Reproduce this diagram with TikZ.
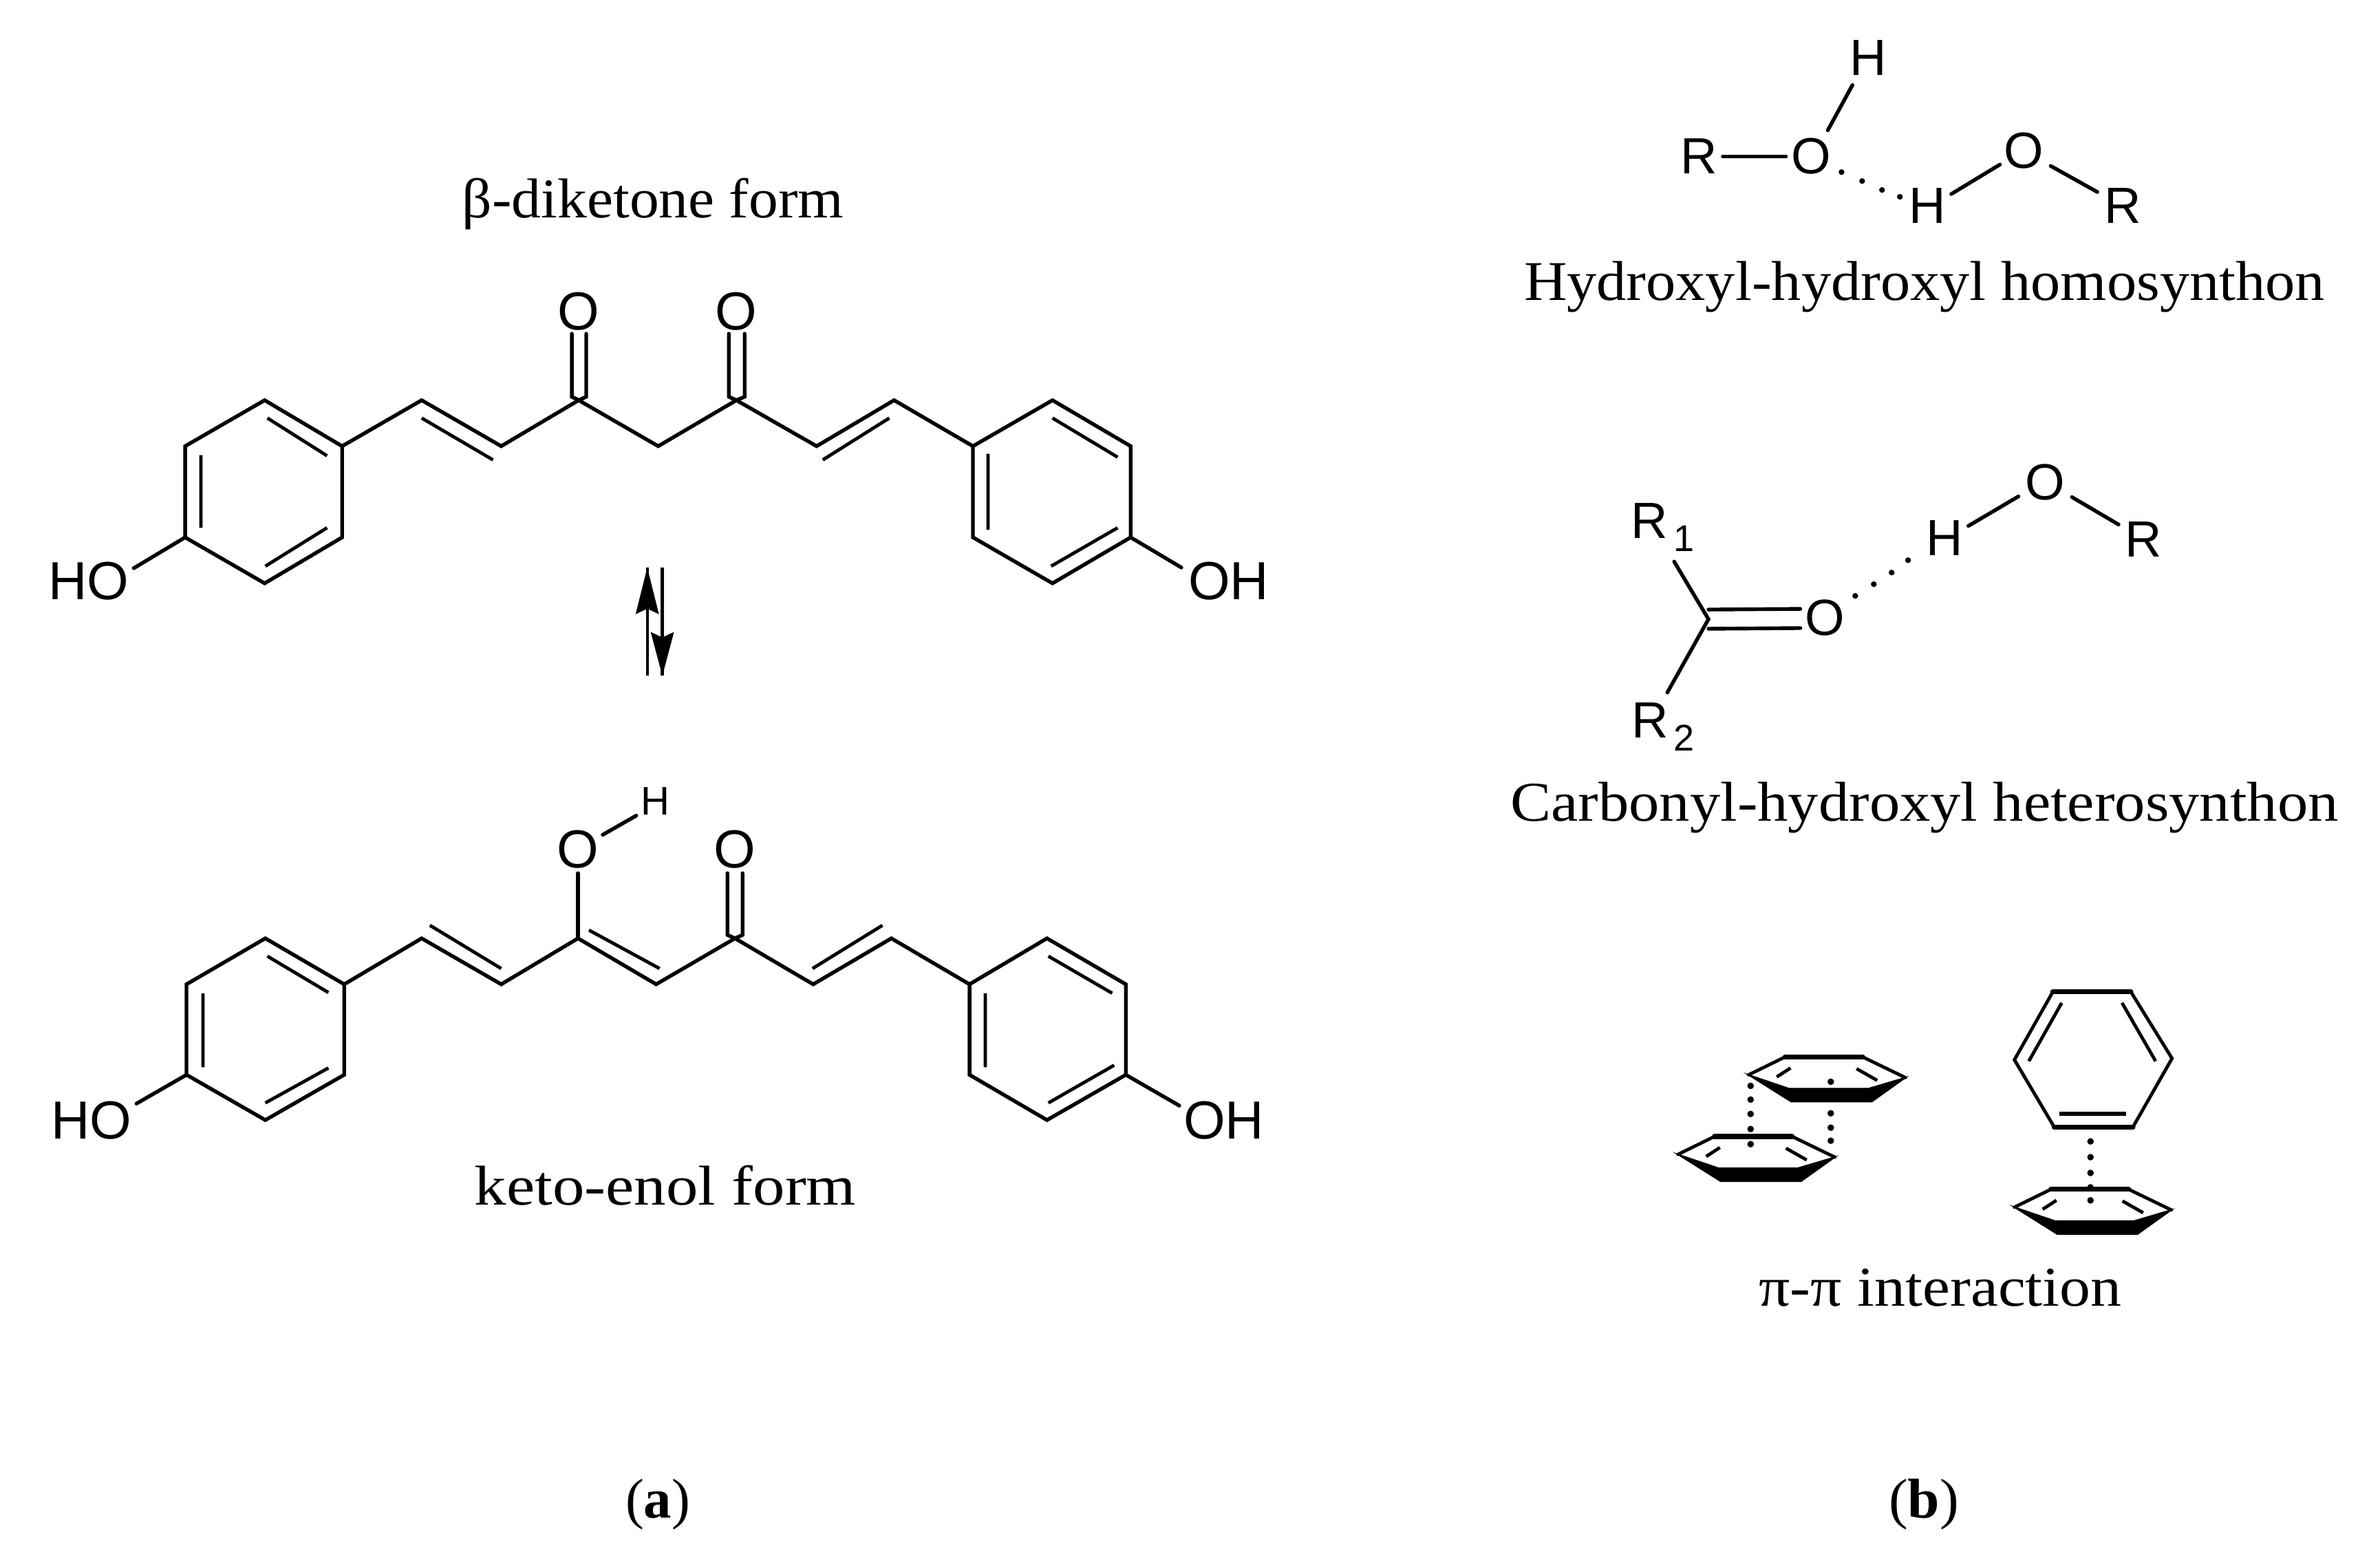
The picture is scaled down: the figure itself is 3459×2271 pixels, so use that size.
\documentclass[tikz,border=0pt]{standalone}
\usepackage{fontspec}
\usepackage{graphicx}
\setmainfont{Liberation Serif}
\newfontfamily\atomfont{Liberation Sans}
\newlength{\pxu}\setlength{\pxu}{0.25pt}
\newcommand{\serifnode}[5]{% name, x, y(baseline), width px, text
  \node[serifl] (#1) at (#2,#3) {\resizebox{#4\pxu}{\height}{#5}};}
\tikzset{
  serifl/.style={anchor=base,inner sep=0pt,outer sep=0pt,font=\fontsize{20.4pt}{24pt}\selectfont},
  atom/.style={inner sep=0pt,outer sep=0pt,font=\atomfont\fontsize{19.5pt}{22pt}\selectfont},
  atomb/.style={inner sep=0pt,outer sep=0pt,font=\atomfont\fontsize{18.5pt}{22pt}\selectfont},
  atomh/.style={inner sep=0pt,outer sep=0pt,font=\atomfont\fontsize{14.5pt}{16pt}\selectfont},
  atomsub/.style={inner sep=0pt,outer sep=0pt,font=\atomfont\fontsize{13.5pt}{16pt}\selectfont},
  bond/.style={line width=1.35pt,line cap=round,line join=miter,color=black},
  inbond/.style={line width=1.2pt,line cap=butt,color=black},
  hb/.style={fill=black,draw=none},
  flatring/.pic={
    \draw[bond,line width=1.2pt] (0,0) -- (53,-26);
    \draw[bond,line width=1.8pt] (53,-26) -- (166,-26);
    \draw[bond,line width=1.2pt] (166,-26) -- (228,4);
    \fill[black,draw=black,line width=0.5pt] (0,0) -- (62,39) -- (179,39) -- (228,4) -- (174,20) -- (59,20) -- cycle;
    \draw[inbond] (41,3) -- (61,-10);
    \draw[inbond] (157,-9) -- (187,8);
  }
}
\begin{document}
\begin{tikzpicture}[x=0.25pt,y=-0.25pt]
\useasboundingbox (0,0) rectangle (3459,2271);
% ---- beta-diketone form
\begin{scope}[shift={(0,0.7)},xscale=.9965,yscale=.9967]
\foreach \n/\x/\y in {a1/386/583,a2/499/650,a3/499/783,a4/386/850,a5/270/783,a6/270/650,
  a7/615/583,a8/731/650,a9/844/583,a10/960/650,a11/1074/583,a12/1191/650,a13/1304/583,
  a14/1419/650,a15/1535/583,a16/1649/650,a17/1649/783,a18/1535/850,a19/1419/783,
  ao1a/834/486,ao1b/834/578,ao1c/855/486,ao1d/855/578,ao2a/1063/486,ao2b/1063/578,ao2c/1086/486,ao2d/1086/578,
  ahol/195/828,ahor/1723/827}
  \coordinate (\n) at (\x,\y);
\draw[bond] (a6)--(a1)--(a2)--(a3)--(a4)--(a5)--cycle;
\draw[bond] (a2)--(a7)--(a8)--(a9)--(a10)--(a11)--(a12)--(a13)--(a14)--(a15)--(a16)--(a17)--(a18)--(a19)--(a14);
\draw[bond] (ao1a)--(ao1b)--(a9)--(ao1d)--(ao1c);
\draw[bond] (ao2a)--(ao2b)--(a11)--(ao2d)--(ao2c);
\draw[bond] (a5)--(ahol);
\draw[bond] (a17)--(ahor);
\draw[inbond] (390,609)--(477,664) (293,663)--(293,769) (387,825)--(477,769);
\draw[inbond] (615,609)--(719,670);
\draw[inbond] (1200,670)--(1297,609);
\draw[inbond] (1535,609)--(1630,666) (1441,661)--(1441,772) (1533,825)--(1630,769);
\node[atom] (aO1) at (844,453) {O};
\node[atom] (aO2) at (1074,453) {O};
\node[atom] (aHO) at (129,847) {HO};
\node[atom] (aOH) at (1792,847) {OH};
% equilibrium arrows
\coordinate (e1a) at (944,827); \coordinate (e1b) at (944,985);
\coordinate (e2a) at (966,827); \coordinate (e2b) at (966,985);
\draw[line width=1.1pt] (e1a)--(e1b);
\draw[line width=1.1pt] (e2a)--(e2b);
\fill (e1a) -- (927,895) -- (944,887) -- (961,895) -- cycle;
\fill (e2b) -- (949,921) -- (966,929) -- (983,921) -- cycle;
\end{scope}
\serifnode{t1}{949}{316}{554}{β-diketone form}
% ---- keto-enol form
\begin{scope}[shift={(0,3.5)},xscale=.9965,yscale=.9967]
\foreach \n/\x/\y in {b1/387/1365,b2/502/1432,b3/502/1564,b4/387/1630,b5/272/1564,b6/272/1432,
  b7/615/1365,b8/731/1432,b9/843/1365,b10/957/1432,b11/1072/1365,b12/1186/1432,b13/1300/1365,
  b14/1414/1432,b15/1527/1365,b16/1642/1432,b17/1642/1564,b18/1527/1630,b19/1414/1564,
  bo1/843/1270,bo2a/1061/1270,bo2b/1061/1360,bo2c/1083/1270,bo2d/1083/1360,
  bh1/879/1214,bh2/928/1186,bhol/199/1606,bhor/1720/1609}
  \coordinate (\n) at (\x,\y);
\draw[bond] (b6)--(b1)--(b2)--(b3)--(b4)--(b5)--cycle;
\draw[bond] (b2)--(b7)--(b8)--(b9)--(b10)--(b11)--(b12)--(b13)--(b14)--(b15)--(b16)--(b17)--(b18)--(b19)--(b14);
\draw[bond] (bo1)--(b9);
\draw[bond] (bo2a)--(bo2b)--(b11)--(bo2d)--(bo2c);
\draw[bond] (bh1)--(bh2);
\draw[bond] (b5)--(bhol);
\draw[bond] (b17)--(bhor);
\draw[inbond] (390,1391)--(479,1444) (296,1445)--(296,1553) (387,1605)--(479,1554);
\draw[inbond] (627,1346)--(731,1409);
\draw[inbond] (859,1353)--(962,1409);
\draw[inbond] (1185,1409)--(1287,1346);
\draw[inbond] (1529,1391)--(1622,1445) (1437,1445)--(1437,1553) (1529,1605)--(1625,1550);
\node[atom] (bO1) at (843,1235) {O};
\node[atom] (bO2) at (1072,1235) {O};
\node[atomh] (bH) at (956,1165) {H};
\node[atom] (bHO) at (133,1630) {HO};
\node[atom] (bOH) at (1785,1630) {OH};
\end{scope}
\serifnode{t2}{967}{1751}{554}{keto-enol form}
% ---- hydroxyl-hydroxyl homosynthon
\begin{scope}[shift={(7,0)},xscale=.9968,yscale=.9967]
\node[atomb] (cH1) at (2717,84) {H};
\node[atomb] (cO1) at (2634,228) {O};
\node[atomb] (cR1) at (2470,228) {R};
\node[atomb] (cH2) at (2803,300) {H};
\node[atomb] (cO2) at (2944,220) {O};
\node[atomb] (cR2) at (3088,300) {R};
\foreach \n/\x/\y in {c1/2505/228,c2/2597/228,c3/2658/190,c4/2694/124,c5/2838/283,c6/2909/240,c7/2983/242,c8/3051/280}
  \coordinate (\n) at (\x,\y);
\draw[bond] (c1)--(c2);
\draw[bond] (c3)--(c4);
\draw[bond] (c5)--(c6);
\draw[bond] (c7)--(c8);
\foreach \x/\y in {2678/251,2708/264,2737/277,2763/287} \fill[hb] (\x,\y) circle (4.2);
% ---- carbonyl-hydroxyl heterosynthon
\node[atomb] (dR1) at (2398,760) {R};
\node[atomsub] (d1) at (2448,785) {1};
\node[atomb] (dR2) at (2399,1050) {R};
\node[atomsub] (d2) at (2448,1076) {2};
\node[atomb] (dO1) at (2654,901) {O};
\node[atomb] (dH) at (2828,785) {H};
\node[atomb] (dO2) at (2975,703) {O};
\node[atomb] (dR3) at (3118,787) {R};
\coordinate (dc) at (2484,903);
\coordinate (d3) at (2434,819);
\coordinate (d4) at (2424,1010);
\coordinate (d5) at (2484,889); \coordinate (d6) at (2618,888);
\coordinate (d7) at (2484,917); \coordinate (d8) at (2618,916);
\coordinate (d9) at (2863,767); \coordinate (d10) at (2936,724);
\coordinate (d11) at (3014,725); \coordinate (d12) at (3082,765);
\draw[bond] (d3)--(dc)--(d4);
\draw[bond] (d5)--(d6);
\draw[bond] (d7)--(d8);
\draw[bond] (d9)--(d10);
\draw[bond] (d11)--(d12);
\foreach \x/\y in {2698/869,2725/852,2751/835,2775/817} \fill[hb] (\x,\y) circle (4.2);
\end{scope}
\serifnode{t3}{2797}{436}{1164}{Hydroxyl-hydroxyl homosynthon}
\serifnode{t4}{2797}{1193}{1203}{Carbonyl-hydroxyl heterosynthon}
% ---- pi-pi interaction
\begin{scope}[shift={(9.4,4.6)},xscale=.996,yscale=.9967]
\pic at (2542,1563) {flatring};
\pic at (2439,1679) {flatring};
\pic at (2930,1756) {flatring};
\foreach \n/\x/\y in {u1/2986/1442,u2/3100/1442,u3/3160/1539,u4/3103/1639,u5/2988/1639,u6/2930/1541}
  \coordinate (\n) at (\x,\y);
\draw[bond,line width=1.2pt] (u1)--(u2)--(u3)--(u4)--(u5)--(u6)--cycle;
\draw[bond,line width=1.8pt] (u1)--(u2) (u4)--(u5);
\draw[inbond] (2999,1458)--(2951,1543) (3087,1458)--(3136,1543);
\draw[inbond,line width=1.6pt] (2996,1620)--(3093,1620);
\foreach \x/\y in {2545/1579,2545/1599,2545/1620,2545/1642,2545/1664,
  2662/1573,2662/1619,2662/1640,2662/1659,
  3041/1660,3041/1683,3041/1706,3041/1727,3041/1746}
  \fill[hb] (\x,\y) circle (4.8);
\end{scope}
\serifnode{t5}{2820}{1898}{527}{π-π interaction}
% ---- panel labels
\serifnode{la}{956}{2206}{94}{(\textbf{a})}
\serifnode{lb}{2796}{2206}{102}{(\textbf{b})}
\end{tikzpicture}
\end{document}
